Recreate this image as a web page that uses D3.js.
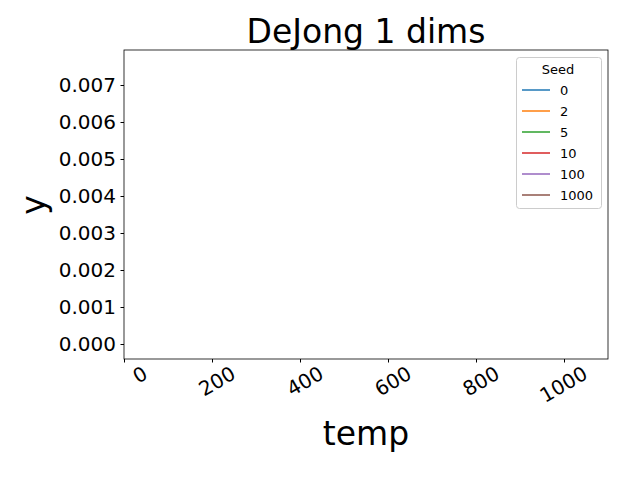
<!DOCTYPE html>
<html><head><meta charset="utf-8">
<script src="https://cdn.jsdelivr.net/npm/d3@7"></script>
<style>body{margin:0;background:#fff}text{font-family:"DejaVu Sans",sans-serif}</style>
</head><body>
<script>
const seeds = ["0","2","5","10","100","1000"];
const colors = ["#1f77b4","#ff7f0e","#2ca02c","#d62728","#9467bd","#8c564b"];
const xTicks = [0,200,400,600,800,1000];
const yTicks = [0,0.001,0.002,0.003,0.004,0.005,0.006,0.007];
// series values: no visible points in reference
const seriesValues = [[],[],[],[],[],[]];

const svg = d3.select("body").append("svg").attr("width",640).attr("height",480);
const L=124,R=608,T=50,B=359;
const x = d3.scaleLinear().domain([0,1100]).range([L,R]);
const y = d3.scaleLinear().domain([-0.000405,0.007946]).range([B,T]);

const line = d3.line().x(d=>x(d[0])).y(d=>y(d[1]));
seriesValues.forEach((s,i)=>svg.append("path").datum(s).attr("d",line).attr("fill","none").attr("stroke",colors[i]).attr("stroke-width",1.5));

const xa = svg.append("g").attr("transform",`translate(0,${B})`).call(d3.axisBottom(x).tickValues(xTicks).tickSize(3.5).tickFormat(d3.format("d")));
xa.attr("font-size",null);
xa.selectAll("text").style("font-size","20px").attr("fill","#000").attr("text-anchor","end").attr("dx","0.6em").attr("dy","1.1em").attr("transform","rotate(-30)");
const ya = svg.append("g").attr("transform",`translate(${L},0)`).call(d3.axisLeft(y).tickValues(yTicks).tickSize(3.5).tickFormat(d3.format(".3f")));
ya.selectAll("text").style("font-size","20px").attr("fill","#000").attr("x",-8);
svg.selectAll(".domain").remove();
svg.append("rect").attr("x",L).attr("y",T).attr("width",R-L).attr("height",B-T).attr("fill","none").attr("stroke","#000").attr("stroke-width",0.8);

svg.append("text").attr("x",366).attr("y",43).attr("text-anchor","middle").style("font-size","33px").text("DeJong 1 dims");
svg.append("text").attr("x",366).attr("y",445).attr("text-anchor","middle").style("font-size","33px").text("temp");
svg.append("text").attr("transform","translate(45,205) rotate(-90)").attr("text-anchor","middle").style("font-size","33px").text("y");

const lg = svg.append("g");
lg.append("rect").attr("x",516.5).attr("y",57.5).attr("width",85).attr("height",151).attr("rx",3).attr("fill","#fff").attr("stroke","#ccc");
lg.append("text").attr("x",558).attr("y",74).attr("text-anchor","middle").style("font-size","13px").text("Seed");
seeds.forEach((s,i)=>{
  const yy = 90 + i*21;
  lg.append("line").attr("x1",522).attr("x2",550).attr("y1",yy).attr("y2",yy).attr("stroke",colors[i]).attr("stroke-width",1.5);
  lg.append("text").attr("x",560).attr("y",yy+4.5).style("font-size","13px").text(s);
});
</script>
</body></html>
